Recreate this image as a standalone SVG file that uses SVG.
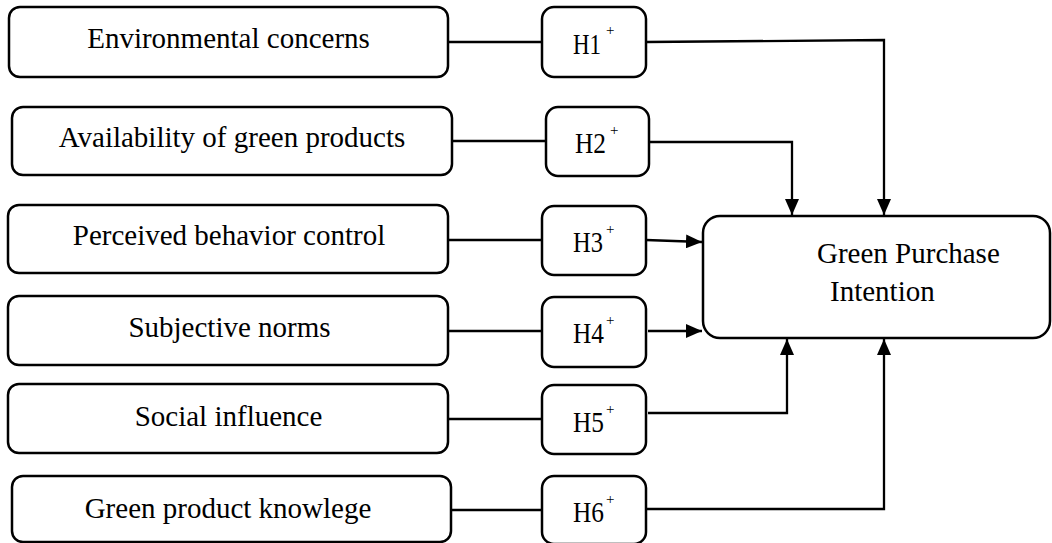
<svg xmlns="http://www.w3.org/2000/svg" width="1052" height="543" viewBox="0 0 1052 543">
<defs>
<style>
.box{fill:#fff;stroke:#000;stroke-width:2.5}
.lbl{font-family:"Liberation Serif","Times New Roman",serif;font-size:29px;fill:#000}
.mid{text-anchor:middle}
.h{font-family:"Liberation Serif","Times New Roman",serif;font-size:29px;fill:#000}
.sup{font-size:15px}
.c{fill:none;stroke:#000;stroke-width:2.3}
</style>
<marker id="arr" markerUnits="userSpaceOnUse" markerWidth="16" markerHeight="14" refX="16" refY="7" orient="auto">
<path d="M0,0 L16,7 L0,14 z" fill="#000"/>
</marker>
</defs>
<rect width="1052" height="543" fill="#fff"/>
<g id="connectors">
<line class="c" x1="448" y1="42" x2="542" y2="42"/>
<polyline class="c" points="646,42 884,40 884,215" marker-end="url(#arr)"/>
<line class="c" x1="452" y1="141" x2="546" y2="141"/>
<polyline class="c" points="649,142 792,142 792,215" marker-end="url(#arr)"/>
<line class="c" x1="448" y1="240" x2="542" y2="240"/>
<line class="c" x1="646" y1="240" x2="702" y2="242" marker-end="url(#arr)"/>
<line class="c" x1="448" y1="331" x2="542" y2="331"/>
<line class="c" x1="648" y1="331" x2="702" y2="331" marker-end="url(#arr)"/>
<line class="c" x1="448" y1="419" x2="542" y2="419"/>
<polyline class="c" points="648,413 787,413 787,339" marker-end="url(#arr)"/>
<line class="c" x1="451" y1="510" x2="542" y2="510"/>
<polyline class="c" points="646,509 884,509 884,339" marker-end="url(#arr)"/>
</g>
<g id="env">
<rect class="box" x="9" y="7" width="439" height="70" rx="11"/>
<text class="lbl mid" x="228.5" y="48">Environmental concerns</text>
</g>
<g id="avail">
<rect class="box" x="12" y="107" width="440" height="68" rx="11"/>
<text class="lbl mid" x="232" y="147">Availability of green products</text>
</g>
<g id="pbc">
<rect class="box" x="8" y="205" width="440" height="68" rx="11"/>
<text class="lbl mid" x="229" y="245">Perceived behavior control</text>
</g>
<g id="subj">
<rect class="box" x="8" y="296" width="440" height="69" rx="11"/>
<text class="lbl mid" x="229.5" y="337">Subjective norms</text>
</g>
<g id="social">
<rect class="box" x="8" y="384" width="440" height="69" rx="11"/>
<text class="lbl mid" x="228.5" y="426">Social influence</text>
</g>
<g id="knowledge">
<rect class="box" x="12" y="476" width="439" height="66" rx="11"/>
<text class="lbl mid" x="228" y="518">Green product knowlege</text>
</g>
<g id="h1">
<rect class="box" x="542" y="7" width="104" height="70" rx="12"/>
<text class="h" x="573" y="54"><tspan textLength="28" lengthAdjust="spacingAndGlyphs">H1</tspan><tspan class="sup" x="606" y="35">+</tspan></text>
</g>
<g id="h2">
<rect class="box" x="546" y="107" width="103" height="69" rx="12"/>
<text class="h" x="575" y="153"><tspan textLength="31" lengthAdjust="spacingAndGlyphs">H2</tspan><tspan class="sup" x="610" y="135">+</tspan></text>
</g>
<g id="h3">
<rect class="box" x="542" y="206" width="104" height="69" rx="12"/>
<text class="h" x="573" y="252"><tspan textLength="30" lengthAdjust="spacingAndGlyphs">H3</tspan><tspan class="sup" x="606" y="234">+</tspan></text>
</g>
<g id="h4">
<rect class="box" x="542" y="297" width="104" height="70" rx="12"/>
<text class="h" x="573" y="343"><tspan textLength="31" lengthAdjust="spacingAndGlyphs">H4</tspan><tspan class="sup" x="606" y="325">+</tspan></text>
</g>
<g id="h5">
<rect class="box" x="542" y="385" width="104" height="69" rx="12"/>
<text class="h" x="573" y="432"><tspan textLength="31" lengthAdjust="spacingAndGlyphs">H5</tspan><tspan class="sup" x="606" y="414">+</tspan></text>
</g>
<g id="h6">
<rect class="box" x="542" y="476" width="104" height="68" rx="12"/>
<text class="h" x="573" y="522"><tspan textLength="31" lengthAdjust="spacingAndGlyphs">H6</tspan><tspan class="sup" x="606" y="504">+</tspan></text>
</g>
<g id="gpi">
<rect class="box" x="703" y="216" width="347" height="122" rx="17"/>
<text class="lbl" x="817" y="263">Green Purchase</text>
<text class="lbl" x="830" y="301">Intention</text>
</g>
</svg>
